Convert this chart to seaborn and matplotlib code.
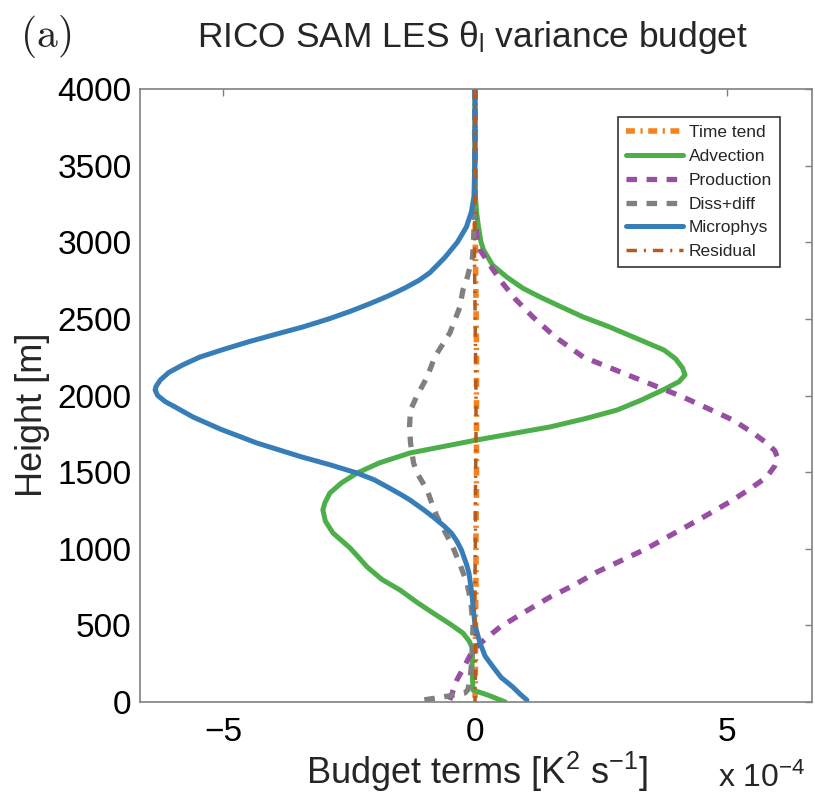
import matplotlib
matplotlib.use("Agg")
import matplotlib.pyplot as plt
import seaborn as sns

# heights [m] and budget terms [1e-4 K^2 s^-1]
z_time = [4000, 3600, 3200, 2900, 2600, 2300, 2000, 1700, 1400, 1100, 800, 500, 250, 0]
time_tend = [0.0, 0.0, 0.0, 0.01, 0.02, 0.03, 0.03, 0.03, 0.03, 0.02, 0.02, 0.01, 0.01, 0.0]

z_adv = [4000, 3500, 3300, 3200, 3100, 3000, 2950, 2850, 2773, 2700, 2643, 2580,
         2512, 2450, 2382, 2297, 2240, 2180, 2134, 2090, 2036, 1970, 1905, 1850, 1795,
         1710, 1625, 1560, 1494, 1430, 1364, 1300, 1253, 1180, 1103, 1005, 940, 881,
         800, 731, 650, 580, 510, 450, 400, 359, 300, 228, 150, 78, 40, 0]
advection = [0.0, 0.0, 0.01, 0.03, 0.07, 0.12, 0.17, 0.35, 0.63, 0.95, 1.29, 1.7,
             2.15, 2.65, 3.14, 3.75, 3.98, 4.12, 4.17, 4.05, 3.73, 3.3, 2.82, 2.2, 1.49,
             0.04, -1.29, -1.9, -2.34, -2.65, -2.88, -2.98, -3.02, -2.97, -2.82, -2.48, -2.3, -2.14,
             -1.85, -1.49, -1.15, -0.83, -0.5, -0.24, -0.12, -0.06, -0.05, -0.06, -0.05, -0.04, 0.3, 0.6]

z_prod = [4000, 3500, 3200, 3100, 3000, 2950, 2850, 2753, 2630, 2512, 2380, 2251,
          2120, 1990, 1840, 1760, 1690, 1640, 1592, 1540, 1468, 1400, 1318, 1200,
          1100, 1000, 930, 848, 760, 685, 590, 490, 410, 339, 240, 143, 13]
production = [0.0, 0.0, 0.0, 0.02, 0.05, 0.1, 0.3, 0.5, 0.8, 1.15, 1.6, 2.15,
              3.14, 4.13, 5.12, 5.5, 5.79, 5.95, 6.01, 5.95, 5.79, 5.5, 5.12, 4.5,
              3.95, 3.4, 2.95, 2.42, 1.95, 1.49, 1.0, 0.5, 0.2, -0.04, -0.2, -0.36, -0.5]

z_diss = [4000, 3500, 3200, 3000, 2900, 2838, 2750, 2688, 2577, 2408, 2251, 2120,
          2000, 1905, 1795, 1690, 1560, 1494, 1383, 1272, 1207, 1100, 1011, 900,
          776, 650, 490, 380, 274, 150, 80, 59, 33, 13]
diss_diff = [0.0, 0.0, -0.01, -0.03, -0.05, -0.1, -0.17, -0.24, -0.3, -0.5, -0.8, -0.95,
             -1.15, -1.28, -1.3, -1.28, -1.22, -1.15, -0.95, -0.83, -0.75, -0.58, -0.44, -0.3,
             -0.16, -0.08, -0.04, -0.05, -0.06, -0.1, -0.14, -0.2, -0.63, -1.03]

z_micro = [4000, 3600, 3300, 3200, 3100, 3000, 2900, 2800, 2750, 2700, 2650, 2600,
           2550, 2500, 2447, 2400, 2350, 2300, 2251, 2200, 2150, 2100, 2060, 2036,
           2000, 1960, 1930, 1860, 1780, 1690, 1600, 1550, 1494, 1450, 1400, 1350,
           1318, 1250, 1207, 1150, 1103, 1050, 992, 900, 842, 700, 600, 500, 385,
           300, 228, 160, 98, 50, 13]
microphys = [0.0, 0.0, -0.02, -0.07, -0.17, -0.35, -0.6, -0.9, -1.12, -1.4, -1.72, -2.08,
             -2.47, -2.9, -3.42, -3.95, -4.5, -5.0, -5.46, -5.8, -6.08, -6.25, -6.33, -6.35,
             -6.3, -6.15, -5.98, -5.6, -5.05, -4.33, -3.45, -2.9, -2.34, -2.0, -1.72, -1.45,
             -1.29, -1.0, -0.83, -0.62, -0.47, -0.36, -0.27, -0.17, -0.12, -0.06, -0.03, 0.0,
             0.1, 0.2, 0.36, 0.52, 0.75, 0.9, 1.03]

z_resid = [4000, 3600, 3200, 2900, 2600, 2300, 2000, 1700, 1400, 1100, 800, 500, 250, 0]
residual = [0.0, 0.0, 0.0, -0.01, 0.0, 0.01, 0.02, 0.02, 0.01, 0.01, 0.0, 0.0, 0.01, 0.0]

sns.set_style("white")
plt.rcParams["font.family"] = ["Liberation Sans", "DejaVu Sans"]
plt.rcParams["mathtext.fontset"] = "custom"
plt.rcParams["mathtext.rm"] = "Liberation Sans"
plt.rcParams["mathtext.it"] = "Liberation Sans:italic"

fig = plt.figure(figsize=(8.15, 7.94), dpi=100)
ax = fig.add_axes([140 / 815, 1 - 702 / 794, 672 / 815, 613 / 794])

series = [
    ("Time tend", z_time, time_tend, "#f58220", (0, (1.6, 1.0, 0.4, 1.0)), 4.0),
    ("Advection", z_adv, advection, "#4daf4a", "-", 3.6),
    ("Production", z_prod, production, "#984ea3", (0, (2.0, 1.8)), 3.8),
    ("Diss+diff", z_diss, diss_diff, "#808080", (0, (2.0, 1.8)), 3.8),
    ("Microphys", z_micro, microphys, "#377eb8", "-", 3.6),
    ("Residual", z_resid, residual, "#b65a1e", (0, (3.0, 2.0, 0.6, 2.0)), 2.5),
]
for name, z, vals, col, ls, lw in series:
    sns.lineplot(x=vals, y=z, sort=False, estimator=None, color=col,
                 linestyle=ls, linewidth=lw, label=name, ax=ax)

ax.set_xlim(-6.65, 6.69)
ax.set_ylim(0, 4000)
ax.set_xticks([-5, 0, 5])
ax.set_xticklabels(["\u22125", "0", "5"])
ax.set_yticks(range(0, 4001, 500))
ax.tick_params(direction="in", length=5, width=1, color="#808080",
               top=True, right=True, labelsize=24, labelcolor="black")
ax.tick_params(axis="x", pad=11)
ax.tick_params(axis="y", pad=6)
for sp in ax.spines.values():
    sp.set_color("#808080")
    sp.set_linewidth(1.2)
ax.set_xlabel("")
ax.set_ylabel("")

leg = ax.legend(loc="upper right", bbox_to_anchor=(0.952, 0.954), borderaxespad=0,
                fontsize=12.5, handlelength=3.3, handletextpad=0.3, labelspacing=0.5,
                borderpad=0.45, fancybox=False, frameon=True)
leg.get_frame().set_edgecolor("black")
leg.get_frame().set_linewidth(1.2)

fig.text(20 / 815, 1 - 47 / 794, r"$\mathrm{(a)}$", fontsize=30,
         math_fontfamily="cm", va="baseline", ha="left")
fig.text(473 / 815, 1 - 47 / 794, "RICO SAM LES \u03b8$_\\mathrm{l}$ variance budget",
         fontsize=25.5, ha="center", va="baseline")
fig.text(477 / 815, 1 - 784 / 794, "Budget terms [K$^\\mathrm{2}$ s$^{\\mathrm{-1}}$]",
         fontsize=26, ha="center", va="baseline")
fig.text(718 / 815, 1 - 787 / 794, "x 10$^{\\mathrm{-4}}$", fontsize=23,
         ha="left", va="baseline")
fig.text(33 / 815, 1 - 415 / 794, "Height [m]", fontsize=26, rotation=90,
         ha="center", va="center")

fig.savefig("out.png", dpi=100, facecolor="white")
